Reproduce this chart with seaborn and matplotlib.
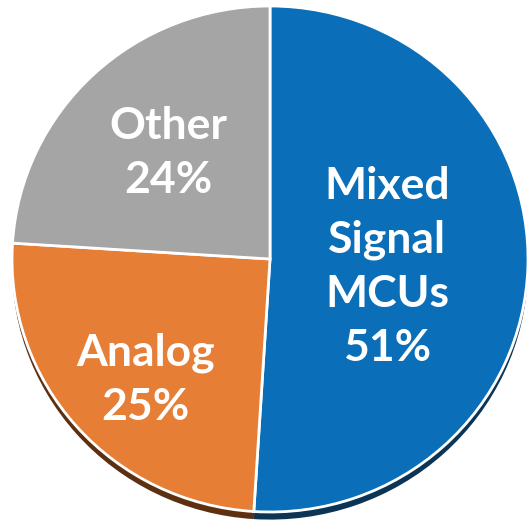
import matplotlib
matplotlib.use("Agg")
import matplotlib.pyplot as plt
import seaborn as sns

# Market share by product segment
labels = ["Mixed\nSignal\nMCUs", "Analog", "Other"]
shares = [51, 25, 24]
colors = ["#0A6EB8", "#E67E35", "#A5A5A5"]
shadow_colors = ["#0C3455", "#5E3012", "#555555"]

sns.set_theme(style="white")
plt.rcParams["font.family"] = ["Lato", "DejaVu Sans"]

fig = plt.figure(figsize=(5.31, 5.22), dpi=100)
ax = fig.add_axes([0, 0, 1, 1])

# dark rim under the pie gives a slight 3D look
ax.pie(shares, colors=shadow_colors, startangle=90, counterclock=False,
       center=(0, -0.03), radius=1.0,
       wedgeprops=dict(edgecolor="none"))
ax.pie(shares, colors=colors, startangle=90, counterclock=False,
       center=(0, 0), radius=1.0,
       wedgeprops=dict(edgecolor="white", linewidth=2))

label_pos = [(0.453, -0.03), (-0.484, -0.478), (-0.395, 0.42)]
for (lx, ly), lab, val in zip(label_pos, labels, shares):
    ax.text(lx, ly, f"{lab}\n{val}%", ha="center", va="center",
            color="white", fontsize=32, fontweight="bold",
            linespacing=1.42)

ax.set_aspect("auto")
ax.set_xlim(-1.0465, 1.0116)
ax.set_ylim(-1.0395, 1.0237)
ax.axis("off")

fig.savefig("out.png", dpi=100, facecolor="white")
